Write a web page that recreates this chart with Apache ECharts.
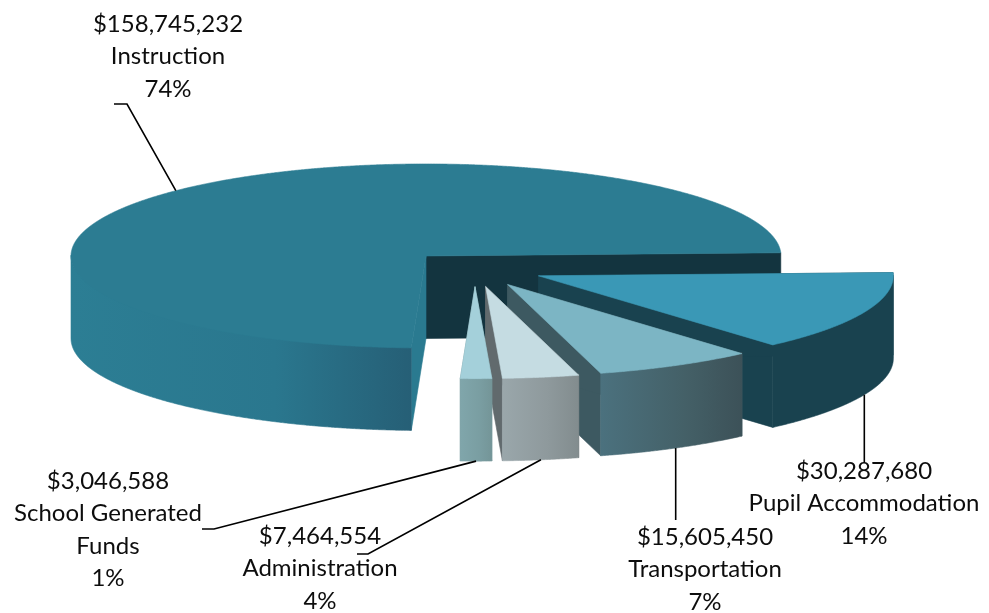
<!DOCTYPE html>
<html>
<head>
<meta charset="utf-8">
<title>Expenditures by function</title>
<style>html,body{margin:0;padding:0;background:#fff}#chart{width:989px;height:613px}</style>
<script src="https://cdn.jsdelivr.net/npm/echarts@6/dist/echarts.min.js"></script>
</head>
<body>
<div id="chart"></div>
<script>
// Spending by function, clockwise around the pie.
const categories = ['Instruction', 'Pupil Accommodation', 'Transportation', 'Administration', 'School Generated\nFunds'];
const amounts = [158745232, 30287680, 15605450, 7464554, 3046588];
const percentLabels = ['74%', '14%', '7%', '4%', '1%'];

// Projection of the tilted pie.
const pie = { cx: 474.8, cy: 268.7, rx: 355, ry: 92, depth: 82.5, explode: 0.195, boundary: 2 };

// Face colours for each slice.
const topColors = ['#2c7c92', '#3a98b6', '#7cb5c4', '#c5dce2', '#a4d0da'];
const wallFrom = ['#2c7e94', '#19424f', '#4b717e', '#9aa7ab', '#80a6ab'];
const wallMid = ['#2a778e', '#19424f', '#446067', '#8e999c', '#7a9ea2'];
const wallTo = ['#265f76', '#19424f', '#3c5158', '#828c8e', '#749598'];
const startCutColors = ['#2a7a90', '#19424f', '#3d5961', '#616a6d', '#749598'];
const endCutColors = ['#13343f', '#19424f', '#3d5961', '#616a6d', '#749598'];

// Label placement: centre x, first row y, and the outer leg of each leader.
const labelCenters = [[168, 24], [864, 471], [705, 537], [320, 536], [108, 481]];
const leaderLegs = [
  [[127, 104], [114, 104]],
  [[null, 463]],
  [[null, 520]],
  [[368, 554], [357, 554]],
  [[214, 529], [202, 529]]
];

const total = amounts.reduce((s, v) => s + v, 0);
const rad = d => d * Math.PI / 180;

function sweepOf(v) { return v / total * 360; }

// Angles run clockwise, with the first slice ending on the boundary angle.
function sliceAngles(index) {
  let a = pie.boundary + sweepOf(amounts[0]);
  for (let i = 0; i < index; i++) a -= sweepOf(amounts[i]);
  return [a, a - sweepOf(amounts[index])];
}

function apexOf(mid) {
  return [
    pie.cx + pie.explode * pie.rx * Math.cos(rad(mid)),
    pie.cy - pie.explode * pie.ry * Math.sin(rad(mid))
  ];
}

function rim(apex, t, drop) {
  return [apex[0] + pie.rx * Math.cos(rad(t)), apex[1] - pie.ry * Math.sin(rad(t)) + (drop || 0)];
}

function arcPoints(apex, from, to, drop, frontOnly) {
  const pts = [];
  const n = Math.ceil(Math.abs(from - to) / 0.25);
  for (let i = 0; i <= n; i++) {
    const t = from + (to - from) * i / n;
    if (!frontOnly || Math.sin(rad(t)) <= 0) pts.push(rim(apex, t, drop));
  }
  return pts;
}

// A hairline stroke in the face's own colour closes the seams between faces.
function polygon(points, fill) {
  return { type: 'polygon', shape: { points }, style: { fill, stroke: fill, lineWidth: 0.6 } };
}

function renderSlice(params, api) {
  const i = params.dataIndex;
  const [a1, a2] = sliceAngles(i);
  const mid = (a1 + a2) / 2;
  const apex = apexOf(mid);
  const d = pie.depth;
  const under = [apex[0], apex[1] + d];
  const children = [];

  // Cut faces first, so the wall and the top can cover whatever faces away.
  children.push(polygon([apex, rim(apex, a2), rim(apex, a2, d), under], endCutColors[i]));
  children.push(polygon([apex, rim(apex, a1), rim(apex, a1, d), under], startCutColors[i]));

  const upper = arcPoints(apex, a1, a2, -1, true);
  const lower = arcPoints(apex, a1, a2, d, true).reverse();
  children.push(polygon(upper.concat(lower), new echarts.graphic.LinearGradient(0, 0, 1, 0, [
    { offset: 0, color: wallFrom[i] },
    { offset: 0.6, color: wallMid[i] },
    { offset: 1, color: wallTo[i] }
  ])));

  children.push(polygon([apex].concat(arcPoints(apex, a1, a2, 0, false)), topColors[i]));
  return { type: 'group', children };
}

function renderLabel(params, api) {
  const i = params.dataIndex;
  const [a1, a2] = sliceAngles(i);
  const mid = (a1 + a2) / 2;
  const apex = apexOf(mid);
  const start = rim(apex, mid, Math.sin(rad(mid)) < 0 ? pie.depth : 0);
  const path = [start].concat(leaderLegs[i].map(p => [p[0] === null ? start[0] : p[0], p[1]]));
  const money = '$' + String(amounts[i]).replace(/\B(?=(\d{3})+$)/g, ',');
  return {
    type: 'group',
    children: [
      {
        type: 'polyline',
        shape: { points: path },
        style: { fill: null, stroke: '#000', lineWidth: 1.6 }
      },
      {
        type: 'text',
        x: labelCenters[i][0],
        y: labelCenters[i][1] - 16,
        style: {
          text: money + '\n' + categories[i] + '\n' + percentLabels[i],
          fill: '#0d0d0d',
          font: '24px Lato, sans-serif',
          lineHeight: 32.5,
          align: 'center',
          verticalAlign: 'top'
        }
      }
    ]
  };
}

const chart = echarts.init(document.getElementById('chart'), null, { renderer: 'canvas' });
chart.setOption({
  animation: false,
  backgroundColor: '#fff',
  series: [
    { type: 'custom', coordinateSystem: 'none', silent: true, z: 2, renderItem: renderSlice, data: amounts },
    { type: 'custom', coordinateSystem: 'none', silent: true, z: 3, renderItem: renderLabel, data: amounts }
  ]
});
</script>
</body>
</html>
